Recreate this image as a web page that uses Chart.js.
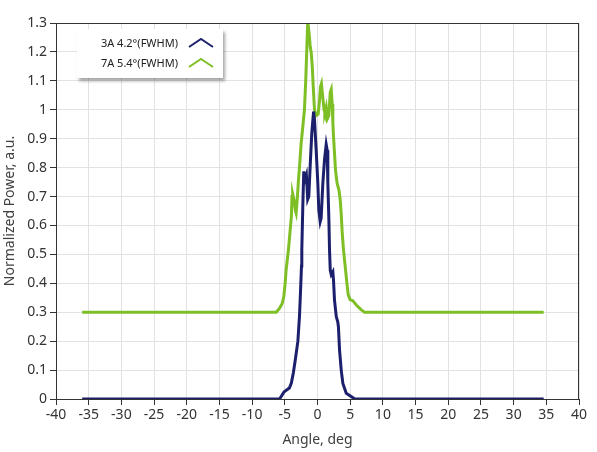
<!DOCTYPE html>
<html>
<head>
<meta charset="utf-8">
<script src="https://cdn.jsdelivr.net/npm/chart.js@4.4.0/dist/chart.umd.min.js"></script>
<style>
  body { margin: 0; background: #fff; }
  #wrap { position: relative; width: 597px; height: 452px; }
  #legend {
    position: absolute; left: 77px; top: 29px; width: 146px; height: 49px;
    background: #fff; box-shadow: 2px 3px 3px rgba(0,0,0,0.35);
    font-family: "Noto Sans", sans-serif; font-size: 11px; color: #222;
  }
  .row { position: absolute; left: 0; width: 146px; height: 18px; }
  .row span { position: absolute; right: 45px; top: 1px; white-space: nowrap; }
  .row svg { position: absolute; left: 111px; top: 4px; }
</style>
</head>
<body>
<div id="wrap">
  <canvas id="chartDaya" width="597" height="452"></canvas>
  <div id="legend"></div>
</div>
<script>
// data
const sudut3A = [-36, -5.8, -5.1, -4.3, -4.0, -3.7, -3.4, -3.0, -2.76, -2.6, -2.45, -2.4, -2.25, -2.1, -1.9, -1.7, -1.5, -1.33, -1.07, -0.87, -0.6, -0.46, -0.2, 0.05, 0.2, 0.41, 0.56, 0.82, 1.07, 1.33, 1.48, 1.58, 1.73, 1.84, 1.95, 2.1, 2.35, 2.45, 2.6, 2.87, 3.1, 3.2, 3.37, 3.63, 3.88, 4.4, 5.2, 5.7, 34.6];
const daya3A = [0, 0, 0.025, 0.038, 0.055, 0.09, 0.135, 0.20, 0.285, 0.37, 0.46, 0.515, 0.665, 0.787, 0.76, 0.775, 0.69, 0.70, 0.83, 0.92, 0.994, 0.965, 0.86, 0.746, 0.654, 0.613, 0.626, 0.747, 0.827, 0.88, 0.86, 0.747, 0.63, 0.515, 0.446, 0.43, 0.44, 0.41, 0.342, 0.285, 0.267, 0.25, 0.17, 0.10, 0.054, 0.02, 0.008, 0, 0];

const sudut7A = [-36, -6.3, -5.8, -5.4, -5.15, -4.95, -4.8, -4.45, -4.0, -3.9, -3.8, -3.6, -3.4, -3.27, -3.1, -2.9, -2.76, -2.5, -2.25, -2.0, -1.8, -1.65, -1.5, -1.4, -1.23, -1.1, -0.97, -0.8, -0.65, -0.46, -0.2, 0.1, 0.3, 0.46, 0.6, 0.82, 1.0, 1.12, 1.33, 1.53, 1.73, 1.95, 2.1, 2.25, 2.35, 2.45, 2.6, 2.76, 3.0, 3.27, 3.47, 3.63, 3.78, 3.98, 4.24, 4.5, 4.7, 5.0, 5.4, 5.93, 6.7, 7.2, 34.6];
const daya7A = [0.3, 0.3, 0.314, 0.33, 0.354, 0.40, 0.446, 0.515, 0.63, 0.70, 0.71, 0.69, 0.654, 0.643, 0.69, 0.76, 0.80, 0.885, 0.94, 1.0, 1.1, 1.2, 1.30, 1.29, 1.25, 1.215, 1.2, 1.15, 1.08, 1.0, 0.98, 0.985, 1.03, 1.08, 1.09, 1.04, 1.0, 0.99, 1.01, 0.97, 0.98, 1.06, 1.07, 1.02, 0.954, 0.908, 0.85, 0.79, 0.746, 0.723, 0.69, 0.64, 0.574, 0.515, 0.458, 0.40, 0.36, 0.343, 0.34, 0.325, 0.308, 0.3, 0.3];

const labelSeri = ["3A 4.2°(FWHM)", "7A 5.4°(FWHM)"];
const warnaSeri = ["#1c1f6b", "#7fbf26"];

const xMin = -40, xMax = 40, xStep = 5;
const yMin = 0, yMax = 1.3, yStep = 0.1;

function gabung(xs, ys) {
  return xs.map((x, i) => ({ x: x, y: ys[i] }));
}

// legenda di dalam area grafik
const legendEl = document.getElementById("legend");
labelSeri.forEach((lbl, i) => {
  const row = document.createElement("div");
  row.className = "row";
  row.style.top = (5 + i * 20) + "px";
  row.innerHTML = `<span>${lbl}</span>
    <svg width="26" height="10"><polyline points="1,9 13,1 25,9" fill="none" stroke="${warnaSeri[i]}" stroke-width="2"/></svg>`;
  legendEl.appendChild(row);
});

// garis bingkai area plot
const bingkai = {
  id: "bingkai",
  afterDraw(chart) {
    const a = chart.chartArea;
    const c = chart.ctx;
    c.save();
    c.strokeStyle = "#333";
    c.lineWidth = 1;
    c.strokeRect(a.left + 0.5, a.top + 0.5, a.right - a.left - 1, a.bottom - a.top);
    c.restore();
  }
};

const fontTick = { family: "Noto Sans", size: 14 };
const fontJudul = { family: "Noto Sans", size: 14 };

new Chart(document.getElementById("chartDaya").getContext("2d"), {
  type: "line",
  data: {
    datasets: [
      {
        label: labelSeri[0],
        data: gabung(sudut3A, daya3A),
        borderColor: warnaSeri[0],
        borderWidth: 3,
        pointRadius: 0,
        fill: false,
        tension: 0
      },
      {
        label: labelSeri[1],
        data: gabung(sudut7A, daya7A),
        borderColor: warnaSeri[1],
        borderWidth: 3,
        pointRadius: 0,
        fill: false,
        tension: 0
      }
    ]
  },
  options: {
    responsive: false,
    animation: false,
    layout: { padding: { top: 23, right: 18, left: 0, bottom: 0 } },
    plugins: {
      legend: { display: false },
      tooltip: { enabled: false }
    },
    scales: {
      x: {
        type: "linear",
        min: xMin, max: xMax,
        afterFit: s => { s.height = 53; },
        ticks: { stepSize: xStep, color: "#333", font: fontTick, padding: 2, maxRotation: 0 },
        grid: { color: "#e2e2e2", tickColor: "#333", tickLength: 6 },
        border: { color: "#333" },
        title: { display: true, text: "Angle, deg", color: "#404040", font: fontJudul, padding: { top: 0, bottom: 4 } }
      },
      y: {
        min: yMin, max: yMax,
        afterFit: s => { s.width = 56; },
        ticks: { stepSize: yStep, color: "#333", font: fontTick, padding: 3,
          callback: v => String(Math.round(v * 10) / 10) },
        grid: { color: "#e2e2e2", tickColor: "#333", tickLength: 6 },
        border: { color: "#555" },
        title: { display: true, text: "Normalized Power, a.u.", color: "#404040", font: fontJudul, padding: { top: 2, bottom: 0 } }
      }
    }
  },
  plugins: [bingkai]
});
</script>
</body>
</html>
